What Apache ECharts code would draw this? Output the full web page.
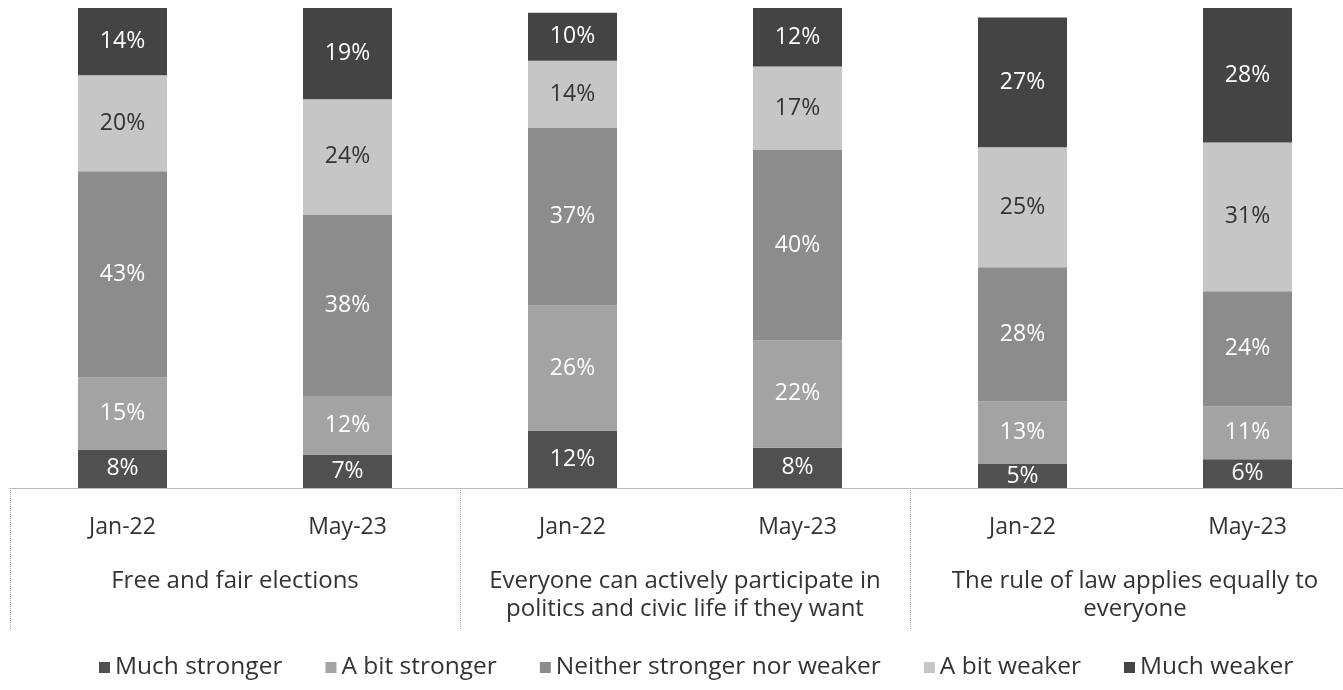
<!DOCTYPE html>
<html>
<head>
<meta charset="utf-8">
<script src="https://cdn.jsdelivr.net/npm/echarts@6/dist/echarts.min.js"></script>
<style>
html,body{margin:0;padding:0;background:#fff;}
#chart{width:1343px;height:690px;}
</style>
</head>
<body>
<div id="chart"></div>
<script>
// Data
const periods = ['Jan-22', 'May-23', 'Jan-22', 'May-23', 'Jan-22', 'May-23'];
const groups = ['Free and fair elections',
  'Everyone can actively participate in\npolitics and civic life if they want',
  'The rule of law applies equally to\neveryone'];
const seriesNames = ['Much stronger', 'A bit stronger', 'Neither stronger nor weaker', 'A bit weaker', 'Much weaker'];
const muchStronger = [8, 7, 12, 8.4, 5, 6];
const aBitStronger = [15, 12, 26, 22.4, 13, 11];
const neither = [43, 38, 37, 39.6, 28, 24];
const aBitWeaker = [20, 24, 14, 17.4, 25, 31];
const muchWeaker = [14, 19, 10, 12.2, 27, 28];

const values = [muchStronger, aBitStronger, neither, aBitWeaker, muchWeaker];
const colors = ['#505050', '#a3a3a3', '#8c8c8c', '#c6c6c6', '#444444'];
const labelColors = ['#ffffff', '#ffffff', '#ffffff', '#333333', '#ffffff'];
const FONT = 'Open Sans';

const chart = echarts.init(document.getElementById('chart'), null, {renderer: 'canvas'});
chart.setOption({
  animation: false,
  textStyle: {fontFamily: FONT},
  grid: {left: 10, top: 8, width: 1350, height: 480, containLabel: false, outerBoundsMode: 'none'},
  legend: {
    bottom: 5,
    left: 94,
    itemWidth: 11,
    itemHeight: 11,
    itemGap: 43,
    icon: 'rect',
    textStyle: {fontFamily: FONT, fontSize: 24.5, color: '#333'},
    data: seriesNames
  },
  xAxis: [
    {
      type: 'category',
      data: periods,
      position: 'bottom',
      axisLine: {show: true, lineStyle: {color: '#aaa', type: 'dotted', width: 1}},
      axisTick: {show: false},
      axisLabel: {interval: 0, margin: 28, fontSize: 23, color: '#333', fontFamily: FONT}
    },
    {
      type: 'category',
      data: groups,
      position: 'bottom',
      axisLine: {show: false},
      axisTick: {show: true, interval: 0, length: 142, lineStyle: {color: '#aaa', type: 'dotted', width: 1}},
      axisLabel: {interval: 0, margin: 79, fontSize: 24, lineHeight: 28, color: '#333', fontFamily: FONT}
    }
  ],
  yAxis: {type: 'value', min: 0, max: 100, show: false, splitLine: {show: false}},
  series: seriesNames.map((name, i) => ({
    name: name,
    type: 'bar',
    stack: 'total',
    barWidth: 89,
    xAxisIndex: 0,
    data: values[i],
    itemStyle: {color: colors[i]},
    label: {
      show: true,
      position: 'inside',
      fontSize: 23,
      fontFamily: FONT,
      color: labelColors[i],
      formatter: p => Math.round(p.value) + '%'
    }
  }))
});
</script>
</body>
</html>
